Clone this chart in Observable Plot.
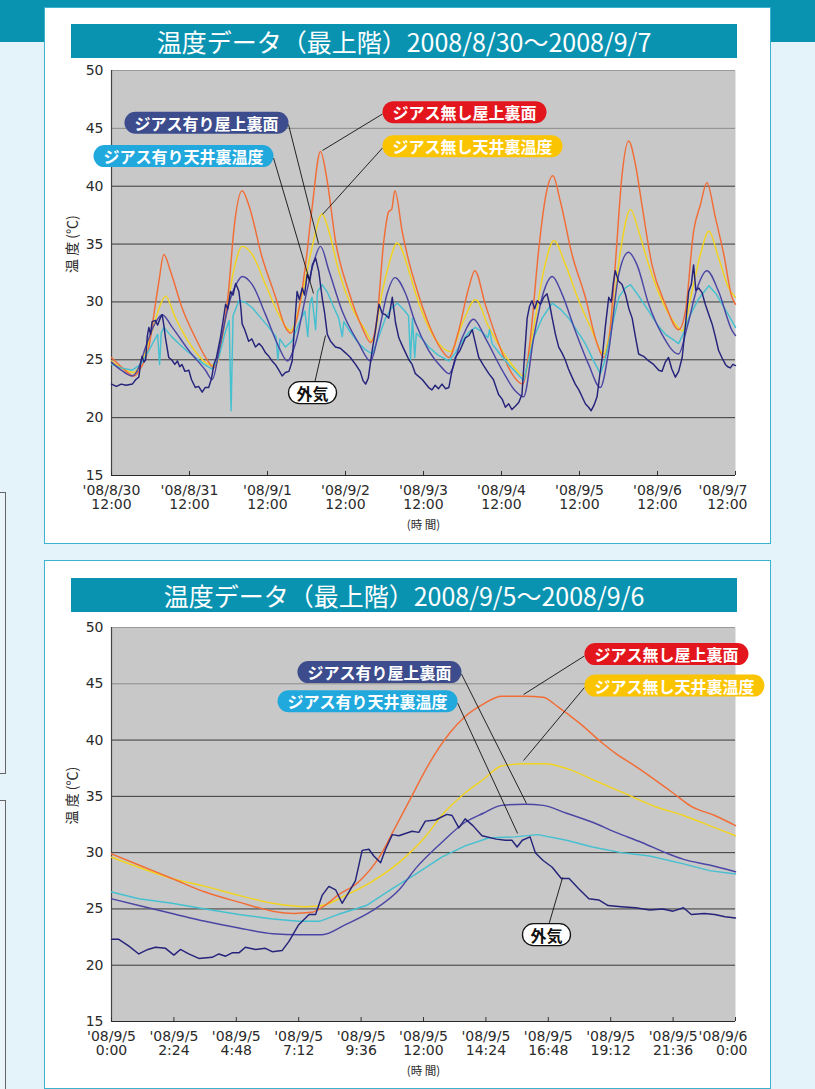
<!DOCTYPE html>
<html><head><meta charset="utf-8">
<script src="https://cdn.jsdelivr.net/npm/d3@7"></script>
<script src="https://cdn.jsdelivr.net/npm/@observablehq/plot@0.6"></script>
<style>
body{margin:0;background:#e4f2fa;}
#page{position:relative;width:815px;height:1089px;overflow:hidden;background:#e4f2fa;font-family:"Noto Sans CJK JP",sans-serif;}
.abs{position:absolute;}
.title{position:absolute;left:71px;width:666px;height:34px;background:#0a93b1;color:#fff;font-size:25px;line-height:34px;text-align:center;white-space:nowrap;}
.panel{position:absolute;left:44px;width:725px;background:#fff;border:1.5px solid #3db2cc;}
.side{position:absolute;left:-20px;width:24px;border:1px solid #666;background:#eaf4fa;}
</style></head>
<body><div id="page">
<div class="abs" style="left:0;top:0;width:815px;height:42px;background:#0a93b1"></div>
<div class="side" style="top:492px;height:280px"></div>
<div class="side" style="top:800px;height:320px"></div>
<div class="panel" style="top:7px;height:535px"></div>
<div class="panel" style="top:560px;height:527px"></div>
<div class="title" style="top:24px">温度データ（最上階）2008/8/30～2008/9/7</div>
<div class="title" style="top:578px">温度データ（最上階）2008/9/5～2008/9/6</div>
<div id="c1" class="abs" style="left:0;top:60px"></div>
<div id="c2" class="abs" style="left:0;top:617px"></div>
</div>
<script>
// ---------- data ----------
const seriesNames = ["ジアス無し屋上裏面","ジアス無し天井裏温度","ジアス有り屋上裏面","ジアス有り天井裏温度","外気"];
const yTicks = [15,20,25,30,35,40,45,50];

// chart 1: hours from '08/8/30 12:00
const c1TickHours = [0,24,48,72,96,120,144,168,192];
const c1TickLabels = ["'08/8/30\n12:00","'08/8/31\n12:00","'08/9/1\n12:00","'08/9/2\n12:00","'08/9/3\n12:00","'08/9/4\n12:00","'08/9/5\n12:00","'08/9/6\n12:00","'08/9/7\n12:00"];

const c1RoofNo = [[0,25.2],[3,24.4],[6.9,23.6],[9,24.3],[11.5,26.1],[13.5,29.8],[14.6,31.8],[16.1,34.1],[18.1,32.7],[21.7,29.5],[25.8,26.9],[29.9,24.8],[31.5,24.3],[33.5,26.1],[36.1,31.2],[37.6,36.1],[40.2,39.6],[42.2,38.4],[46.4,33.8],[50.5,30.4],[53.5,27.8],[55.1,27.3],[57.1,28.6],[59.7,33.2],[61.7,38.1],[64.3,43.0],[66.4,40.4],[68.9,35.3],[73,30.9],[77.1,27.8],[79.7,26.5],[81.7,28.6],[83.8,35.3],[85.3,37.8],[86.2,38.0],[87.2,39.6],[89.5,36.0],[91.5,33.5],[93.5,31.5],[97.6,28.1],[101.7,25.8],[103.8,25.2],[106.8,27.5],[109.9,31.2],[111.8,32.7],[115,29.8],[119.1,26.4],[123.2,23.8],[126.5,22.9],[128.9,26.9],[131.4,34.4],[133.5,39.0],[135.8,40.9],[138.1,38.7],[141.7,34.1],[145.8,30.4],[149.4,26.4],[151.4,25.2],[153,26.6],[155,33.2],[157.1,41.0],[159.1,43.9],[161.2,41.9],[163.2,38.4],[166.3,33.2],[170.4,29.8],[174.5,27.6],[176.6,29.2],[179.1,36.1],[181.2,38.4],[183.2,40.3],[185.8,37.3],[188.4,34.1],[190.9,30.4],[192,29.8]];
const c1CeilNo = [[0,24.9],[3,24.3],[6.9,23.9],[9.5,25.0],[12.5,27.5],[15.1,29.8],[16.6,30.5],[19.7,28.6],[24.8,26.1],[29.9,24.6],[32,24.5],[35.1,28.6],[37.6,32.7],[40.2,34.8],[43.3,34.1],[47.4,31.5],[51.5,28.9],[55.1,27.5],[58.7,30.7],[61.7,34.7],[64.8,37.6],[66.9,36.1],[69.9,32.7],[74,29.5],[78.2,27.5],[80.2,26.6],[83.3,30.9],[85.3,33.2],[87.9,35.1],[91.5,32.7],[93.5,30.8],[97.6,27.8],[101.7,26.1],[104.3,25.7],[107.9,28.1],[112,30.2],[116.1,27.8],[120.2,25.8],[124.3,24.2],[126.8,23.6],[129.9,27.8],[133,32.7],[136.1,35.3],[139.7,33.2],[143.8,30.1],[147.9,27.5],[151.4,25.5],[154,28.6],[156.6,34.4],[159.7,38.0],[162.2,36.1],[165.3,33.2],[169.4,30.1],[173.5,28.1],[175.6,27.5],[178.6,30.9],[181.2,34.1],[183.8,36.1],[186.8,33.8],[189.9,31.2],[192,30.4]];
const c1RoofYes = [[0,24.8],[3,24.1],[6.4,23.6],[8.5,24.4],[10.5,26.1],[13.5,28.2],[15.6,28.9],[18.7,27.8],[23.8,25.8],[28.9,24.1],[31,23.3],[33.5,26.4],[36.1,29.8],[38.5,31.6],[40.2,32.2],[43.3,31.5],[47.4,28.9],[51.5,26.1],[54.1,24.9],[56.6,26.4],[59.7,30.4],[62.3,33.5],[64.3,34.8],[66.9,32.7],[71,29.2],[76.1,26.4],[79.7,24.9],[82.3,27.5],[84.8,30.7],[87.2,32.1],[90.5,30.7],[93.5,28.2],[97.6,25.8],[101.7,24.3],[103.8,23.8],[107.9,26.9],[111.4,28.5],[115,26.9],[120.2,24.1],[124.3,22.3],[126.8,21.8],[129.9,26.9],[133,30.9],[135.6,32.2],[138.6,30.7],[142.7,27.5],[146.8,24.6],[150.4,22.6],[153,25.8],[156.1,32.4],[159.1,34.3],[161.7,33.2],[165.3,29.8],[169.4,27.2],[174.5,25.5],[177.1,27.8],[180.2,31.2],[183.2,32.7],[186.8,30.9],[191,27.5],[192,27.1]];
const c1CeilYes = [[0,24.6],[3,24.3],[6.4,24.1],[9,24.6],[11.5,25.8],[13,26.6],[14.2,27.2],[14.8,24.6],[15.3,27.3],[16.1,27.8],[17,27.5],[18.5,27.0],[20.7,26.4],[23,25.8],[25.8,25.2],[28.5,24.6],[31,24.2],[33,25.2],[35.1,27.5],[36.2,28.4],[36.8,20.6],[37.4,28.8],[39.2,30.1],[41,30.0],[43.3,29.5],[46,28.6],[48.4,27.8],[50.6,27.0],[51.2,25.0],[51.8,26.8],[53.5,26.1],[55.5,26.6],[57.6,28.1],[59.5,29.2],[60.4,27.0],[61,29.8],[61.7,30.4],[62.8,27.6],[63.4,30.9],[64.8,31.5],[66.5,30.8],[68,29.8],[69.9,28.6],[71,27.0],[71.5,28.3],[73,27.6],[76.1,26.4],[78,25.9],[80.2,25.5],[82,26.8],[84.3,28.6],[86,29.4],[87.9,29.9],[90,29.3],[91.4,28.8],[92,25.0],[92.6,28.6],[93.3,25.2],[93.8,27.3],[95.6,26.8],[97.6,26.1],[100.5,25.4],[103.8,24.9],[105.8,25.6],[107.9,26.6],[110,27.4],[112,27.8],[114,27.4],[115.8,26.9],[116.3,27.6],[117.1,26.4],[119.5,25.5],[122.2,24.6],[124.5,23.9],[126.8,23.2],[128.2,24.8],[129.9,26.9],[132.5,28.6],[135.6,29.9],[138,29.4],[140.7,28.6],[143,27.6],[145.8,26.4],[148,25.1],[150.4,23.8],[151.7,24.8],[153,26.4],[154.5,28.5],[156.1,30.4],[158,31.2],[159.7,31.5],[162,30.6],[165.3,29.2],[168,28.0],[170.4,27.2],[172.5,26.8],[174.5,26.4],[176,27.3],[177.6,28.6],[180.5,30.2],[183.8,31.4],[186,30.7],[187.9,29.8],[190,28.8],[192,27.8]];
const c1Outside = [[0,22.9],[1.5,22.7],[3,22.9],[4.5,22.8],[6.4,22.9],[7.5,23.3],[8.4,23.5],[9,24.8],[9.4,25.3],[10,24.8],[10.5,25.0],[11,27.0],[11.5,27.8],[12,27.2],[12.5,28.3],[13.5,28.4],[14.2,28.0],[15,28.6],[15.6,28.9],[16.2,27.8],[16.6,26.9],[17.6,25.2],[18.5,25.0],[19.5,24.6],[20.3,24.9],[21,24.4],[21.7,24.6],[22.6,24.0],[23.8,24.1],[24.6,23.3],[25.8,22.6],[26.8,22.7],[27.9,22.2],[28.8,22.6],[29.9,22.6],[30.8,23.4],[31.5,24.6],[32.3,25.2],[33.5,26.9],[34.3,28.3],[35.1,29.8],[35.8,29.4],[36.6,30.9],[37.4,30.6],[38.2,31.6],[38.8,31.2],[39.2,30.9],[39.8,29.5],[40.2,28.1],[41,27.6],[42.2,26.6],[43.2,26.8],[44.3,26.1],[45.4,26.4],[46.4,26.1],[47.4,25.6],[48.4,25.3],[49.4,24.9],[50.4,24.6],[51.5,24.1],[52.5,23.6],[53.5,23.9],[54.6,24.0],[55.6,24.9],[56.3,27.8],[57.1,30.9],[57.8,30.2],[58.7,31.2],[59.4,30.6],[60.2,32.4],[61,31.8],[61.8,33.2],[62.8,33.8],[63.8,32.6],[64.8,30.4],[65.6,29.0],[66.4,27.2],[67.4,26.6],[68.9,26.1],[70.4,26.0],[72,25.6],[73.5,25.2],[75.1,24.6],[76.5,24.0],[77.4,23.2],[78.2,22.9],[79,23.4],[80.2,25.8],[81.2,27.5],[82.3,29.8],[83.3,29.0],[84.3,28.9],[85.3,28.6],[86.4,30.4],[87.4,28.2],[88.4,26.9],[89.5,26.2],[90.5,25.6],[91.5,25.0],[92.5,24.6],[93.5,23.8],[95.6,23.3],[97.6,22.6],[98.6,22.4],[99.6,22.8],[100.6,22.5],[101.7,22.9],[102.8,22.5],[103.8,22.6],[104.6,23.8],[105.8,25.2],[107.2,25.8],[108.9,26.9],[110,27.1],[111,27.6],[112,26.4],[113,25.2],[114.5,24.5],[116.1,23.8],[117.5,23.3],[119.1,22.0],[120.2,21.6],[121.2,20.9],[122.2,21.2],[123.2,20.7],[124.3,21.0],[125.3,21.3],[126.3,22.0],[127,25.0],[127.9,28.6],[128.6,29.6],[129.4,30.1],[130.2,29.4],[131,30.1],[132,29.8],[133,30.4],[134,30.7],[134.8,29.8],[135.6,28.6],[136.6,27.2],[137.6,26.1],[138.6,25.6],[139.6,25.0],[140.6,24.2],[141.7,23.5],[142.7,22.9],[143.8,22.4],[144.8,21.8],[145.8,21.2],[146.8,20.9],[147.6,20.6],[148.5,21.1],[149.4,21.8],[150.2,23.6],[151,25.2],[152,28.0],[153,30.4],[153.8,30.0],[154.4,31.6],[155,32.7],[156,31.8],[157.1,31.5],[158.2,30.6],[159.2,29.4],[160.2,28.6],[161.2,27.0],[162.2,25.5],[163.7,25.3],[165.3,24.9],[166.8,24.6],[168.4,24.1],[169.4,24.0],[170.4,24.8],[171.4,25.2],[172.4,24.2],[173.5,23.5],[174.5,24.0],[175.6,25.2],[176.6,28.0],[177.6,30.9],[178.4,31.5],[179.1,33.2],[179.8,31.0],[180.7,31.2],[181.7,30.8],[182.7,29.8],[183.8,28.9],[184.8,28.1],[185.8,27.0],[186.8,25.8],[187.8,25.2],[188.9,24.6],[189.6,24.4],[190.4,24.3],[191.2,24.6],[192,24.5]];

const c1CalloutText = ["ジアス有り屋上裏面","ジアス有り天井裏温度","ジアス無し屋上裏面","ジアス無し天井裏温度","外気"];
const c1CalloutAt = [[54.46,45.33],[49.85,42.44],[83.38,46.24],[83.38,43.30],[61.85,22.0]];
const c1CalloutFrom = [[54.46,45.33],[49.85,42.44],[83.38,46.24],[83.38,43.30],[62.46,22.95]];
const c1CalloutTip = [[63.69,35.05],[62.15,30.73],[64.92,43.09],[64.92,37.56],[65.85,27.1]];

// chart 2: hours from '08/9/5 0:00
const c2TickHours = [0,2.4,4.8,7.2,9.6,12,14.4,16.8,19.2,21.6,24];
const c2TickLabels = ["'08/9/5\n0:00","'08/9/5\n2:24","'08/9/5\n4:48","'08/9/5\n7:12","'08/9/5\n9:36","'08/9/5\n12:00","'08/9/5\n14:24","'08/9/5\n16:48","'08/9/5\n19:12","'08/9/5\n21:36","'08/9/6\n0:00"];

const c2RoofNo = [[0,29.9],[1.05,28.9],[2.33,27.7],[3.6,26.5],[4.9,25.6],[6.2,24.8],[7,24.6],[7.7,24.7],[8.2,25.3],[8.7,26.2],[9.5,27.4],[10.3,29.6],[10.86,32.0],[11.5,34.8],[12.14,37.6],[13,40.6],[13.6,42.1],[14.3,43.2],[15,43.9],[15.9,43.9],[16.6,43.8],[17.2,42.9],[18,41.5],[18.9,39.7],[19.4,38.8],[20,37.9],[20.7,36.8],[21.6,35.3],[22.3,34.1],[23.2,33.3],[24,32.4]];
const c2CeilNo = [[0,29.6],[1.05,28.7],[2.33,27.7],[3.6,27.0],[4.9,26.2],[6.2,25.5],[7.5,25.2],[8.1,25.3],[9,26.2],[10,27.4],[11.1,29.2],[12.1,31.5],[12.7,33.3],[13.6,35.3],[14.3,36.5],[15,37.7],[15.9,37.9],[16.7,37.9],[17.6,37.4],[18.5,36.5],[19.4,35.6],[20,35.0],[20.9,34.1],[22,33.3],[23,32.4],[24,31.5]];
const c2RoofYes = [[0,25.9],[1.05,25.3],[2.33,24.6],[3.6,23.9],[4.9,23.3],[6.2,22.8],[7.2,22.7],[8.1,22.7],[9,23.6],[10,24.8],[11.1,26.8],[11.7,28.6],[12.7,30.9],[13.6,32.7],[14.3,33.5],[15,34.2],[15.9,34.3],[16.6,34.2],[17.5,33.5],[18.5,32.7],[19.4,31.8],[20.4,30.9],[21.3,30.0],[22,29.4],[23,28.9],[24,28.3]];
const c2CeilYes = [[0,26.5],[1.05,25.9],[2.33,25.5],[3.6,25.0],[4.9,24.5],[6.2,24.1],[7.2,23.9],[8,23.9],[8.7,24.5],[9.8,25.3],[10.8,26.8],[11.7,28.1],[12.7,29.6],[13.6,30.6],[14.5,31.3],[15.5,31.4],[16.4,31.6],[17.5,31.1],[18.5,30.5],[19.6,30.0],[20.7,29.7],[22,29.0],[23,28.4],[24,28.1]];
const c2Outside = [[0,22.3],[0.28,22.3],[0.67,21.7],[1.05,21.0],[1.4,21.4],[1.69,21.6],[2.08,21.5],[2.4,20.9],[2.65,21.4],[2.97,21.0],[3.36,20.6],[3.87,20.7],[4.13,21.0],[4.39,20.8],[4.64,21.1],[4.9,21.1],[5.15,21.6],[5.54,21.4],[5.92,21.5],[6.18,21.2],[6.56,21.3],[6.82,22.1],[7.2,23.6],[7.6,24.5],[7.85,24.5],[8.1,26.2],[8.36,27.0],[8.62,26.7],[8.87,25.5],[9.13,26.5],[9.38,27.5],[9.64,30.2],[9.9,30.3],[10.09,29.7],[10.35,29.1],[10.54,30.3],[10.8,31.6],[11.05,31.5],[11.56,31.9],[11.82,31.8],[12.07,32.8],[12.46,32.9],[12.9,33.4],[13.1,33.3],[13.36,32.2],[13.6,33.0],[13.9,32.4],[14.25,31.5],[14.8,31.2],[15.15,31.1],[15.4,31.1],[15.6,30.5],[15.8,31.1],[16.1,31.4],[16.3,30.0],[16.6,29.3],[16.95,28.7],[17.3,27.7],[17.6,27.7],[17.97,26.8],[18.36,25.9],[18.74,25.8],[19.1,25.3],[19.6,25.2],[20.15,25.1],[20.7,24.9],[21.2,25.0],[21.6,24.8],[22,25.1],[22.3,24.5],[22.8,24.6],[23.2,24.5],[23.6,24.3],[24,24.2]];

const c2CalloutText = ["ジアス有り屋上裏面","ジアス有り天井裏温度","ジアス無し屋上裏面","ジアス無し天井裏温度","外気"];
const c2CalloutAt = [[13.46,45.87],[13.31,43.29],[18.19,47.47],[18.19,44.67],[16.73,22.55]];
const c2CalloutFrom = [[13.46,45.87],[13.31,43.29],[18.19,47.47],[18.19,44.67],[16.81,23.53]];
const c2CalloutTip = [[15.96,34.37],[15.62,31.70],[15.85,44.05],[15.85,38.19],[17.35,27.79]];

// ---------- styles ----------
const lineColors = ["#f26d36","#f1d31e","#4b46a4","#45c0d0","#25237a"];
const lineCurves = ["monotone-x","monotone-x","monotone-x","linear","linear"];
const drawOrder = [1,0,3,2,4];
const calloutStyle = [
  {bg:"#3c4c8c", fg:"#fff", anchor:"end", dx:-10},
  {bg:"#21a9dd", fg:"#fff", anchor:"end", dx:-10},
  {bg:"#e3161d", fg:"#fff", anchor:"start", dx:10},
  {bg:"#fbc400", fg:"#fff", anchor:"start", dx:10},
  {bg:"#fff", fg:"#111", anchor:"middle", dx:0, stroke:"#111"}
];

const toRows = pairs => pairs.map(([h, v]) => ({h, v}));

function buildChart({series, domainX, ticks, labels, cText, cAt, cFrom, cTip, height, plotH}) {
  const last = ticks.length - 1;
  const fmt = d => { const i = ticks.indexOf(d); return i === last ? "" : labels[i]; };
  const links = cText.map((t, i) => ({x1: cFrom[i][0], y1: cFrom[i][1], x2: cTip[i][0], y2: cTip[i][1]}));
  const pills = cText.map((t, i) => {
    const s = calloutStyle[i];
    return Plot.text([{t, x: cAt[i][0], y: cAt[i][1]}], {
      x: "x", y: "y", text: "t", fill: s.fg, textAnchor: s.anchor, dx: s.dx,
      fontSize: 16, fontWeight: "bold", fontFamily: "Noto Sans CJK JP",
      ariaDescription: `pill|${s.bg}|${s.stroke || "none"}`
    });
  });
  return Plot.plot({
    width: 815, height, marginLeft: 111, marginRight: 80, marginTop: 10, marginBottom: height - 10 - plotH,
    style: {fontFamily: "DejaVu Sans", fontSize: "14px", color: "#2a2a2a", background: "transparent", overflow: "visible"},
    x: {domain: domainX, ticks, tickFormat: fmt, tickSize: 0, tickPadding: 10, label: null},
    y: {domain: [15, 50], ticks: yTicks, tickSize: 0, tickPadding: 8, label: null},
    marks: [
      Plot.frame({fill: "#c8c8c8", stroke: "none"}),
      Plot.ruleY([20,25,30,35,40], {stroke: "#3a3a3a", strokeWidth: 1}),
      Plot.ruleY([45], {stroke: "#8c8c8c", strokeWidth: 1}),
      Plot.ruleY([50], {stroke: "#9a9a9a", strokeWidth: 1}),
      Plot.ruleY([15], {stroke: "#2a2a2a", strokeWidth: 1.2}),
      Plot.ruleX([domainX[0]], {stroke: "#444", strokeWidth: 1.2}),
      Plot.ruleX(ticks, {y1: 15, y2: 15.35, stroke: "#333"}),
      ...drawOrder.map(k => Plot.line(toRows(series[k]), {x: "h", y: "v", stroke: lineColors[k], strokeWidth: 1.45, curve: lineCurves[k]})),
      Plot.link(links, {x1: "x1", y1: "y1", x2: "x2", y2: "y2", stroke: "#111", strokeWidth: 0.9}),
      ...pills,
      Plot.text([labels[last]], {x: () => ticks[last], y: () => 15, text: d => d, dy: 10, dx: 12, textAnchor: "end", lineAnchor: "top", fontSize: 14}),
      Plot.text(["(時 間)"], {frameAnchor: "bottom", dy: 53, fontSize: 11.5, fontFamily: "Noto Sans CJK JP"}),
      Plot.text(["温 度 (℃)"], {frameAnchor: "left", dx: -39, rotate: -90, fontSize: 14, fontFamily: "Noto Sans CJK JP"})
    ]
  });
}

const chart1 = buildChart({series: [c1RoofNo, c1CeilNo, c1RoofYes, c1CeilYes, c1Outside], domainX: [0, 192], ticks: c1TickHours, labels: c1TickLabels, cText: c1CalloutText, cAt: c1CalloutAt, cFrom: c1CalloutFrom, cTip: c1CalloutTip, height: 480, plotH: 405});
const chart2 = buildChart({series: [c2RoofNo, c2CeilNo, c2RoofYes, c2CeilYes, c2Outside], domainX: [0, 24], ticks: c2TickHours, labels: c2TickLabels, cText: c2CalloutText, cAt: c2CalloutAt, cFrom: c2CalloutFrom, cTip: c2CalloutTip, height: 464, plotH: 394});
document.getElementById("c1").appendChild(chart1);
document.getElementById("c2").appendChild(chart2);

function addPills(svg) {
  svg.querySelectorAll('g[aria-description^="pill"]').forEach(g => {
    const [, bg, st] = g.getAttribute("aria-description").split("|");
    g.querySelectorAll("text").forEach(t => {
      const b = t.getBBox();
      const padX = t.textContent.length <= 2 ? 8 : 10;
      const r = document.createElementNS("http://www.w3.org/2000/svg", "rect");
      const h = b.height - 2;
      r.setAttribute("x", b.x - padX);
      r.setAttribute("y", b.y + (b.height - h) / 2);
      r.setAttribute("width", b.width + 2 * padX);
      r.setAttribute("height", h);
      r.setAttribute("rx", h / 2);
      r.setAttribute("fill", bg);
      r.setAttribute("stroke", st);
      r.setAttribute("stroke-width", st === "none" ? 0 : 1.3);
      if (t.getAttribute("transform")) r.setAttribute("transform", t.getAttribute("transform"));
      t.parentNode.insertBefore(r, t);
    });
  });
}
addPills(chart1);
addPills(chart2);
</script>
</body></html>
